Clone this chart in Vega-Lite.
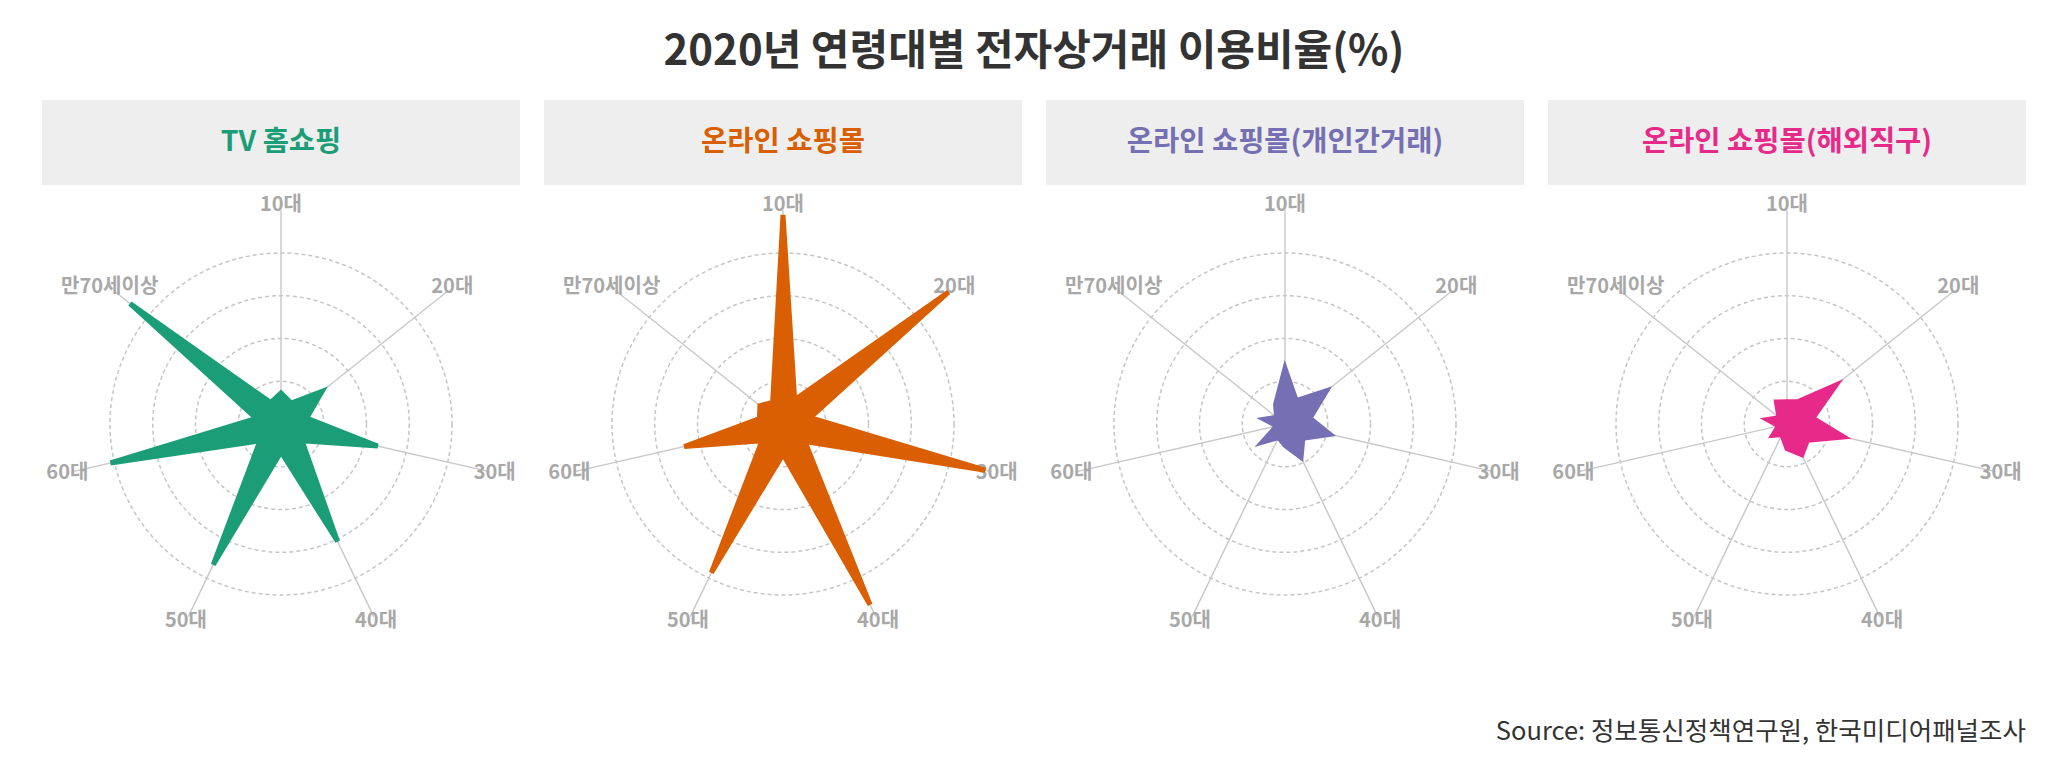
{
  "$schema": "https://vega.github.io/schema/vega-lite/v6.json",
  "padding": {"left": 42, "top": 31, "right": 20, "bottom": 10},
  "background": "white",
  "config": {
    "font": "Noto Sans CJK KR",
    "view": {"stroke": null}
  },
  "title": {
    "text": "2020년 연령대별 전자상거래 이용비율(%)",
    "fontSize": 42,
    "fontWeight": "bold",
    "color": "#333333",
    "anchor": "middle",
    "offset": 26
  },
  "datasets": {
    "channels": [
      {"channel": "TV 홈쇼핑"},
      {"channel": "온라인 쇼핑몰"},
      {"channel": "온라인 쇼핑몰(개인간거래)"},
      {"channel": "온라인 쇼핑몰(해외직구)"}
    ],
    "radar": [
      {"kind": "grid", "channel": "TV 홈쇼핑", "v": 20},
      {"kind": "grid", "channel": "TV 홈쇼핑", "v": 40},
      {"kind": "grid", "channel": "TV 홈쇼핑", "v": 60},
      {"kind": "grid", "channel": "TV 홈쇼핑", "v": 80},
      {"kind": "grid", "channel": "온라인 쇼핑몰", "v": 20},
      {"kind": "grid", "channel": "온라인 쇼핑몰", "v": 40},
      {"kind": "grid", "channel": "온라인 쇼핑몰", "v": 60},
      {"kind": "grid", "channel": "온라인 쇼핑몰", "v": 80},
      {"kind": "grid", "channel": "온라인 쇼핑몰(개인간거래)", "v": 20},
      {"kind": "grid", "channel": "온라인 쇼핑몰(개인간거래)", "v": 40},
      {"kind": "grid", "channel": "온라인 쇼핑몰(개인간거래)", "v": 60},
      {"kind": "grid", "channel": "온라인 쇼핑몰(개인간거래)", "v": 80},
      {"kind": "grid", "channel": "온라인 쇼핑몰(해외직구)", "v": 20},
      {"kind": "grid", "channel": "온라인 쇼핑몰(해외직구)", "v": 40},
      {"kind": "grid", "channel": "온라인 쇼핑몰(해외직구)", "v": 60},
      {"kind": "grid", "channel": "온라인 쇼핑몰(해외직구)", "v": 80},

      {"kind": "shape", "channel": "TV 홈쇼핑", "pos": 0, "age": "10대", "v": 14.5},
      {"kind": "shape", "channel": "TV 홈쇼핑", "pos": 1, "v": 10.9},
      {"kind": "shape", "channel": "TV 홈쇼핑", "pos": 2, "age": "20대", "v": 24.6},
      {"kind": "shape", "channel": "TV 홈쇼핑", "pos": 3, "v": 12.3},
      {"kind": "shape", "channel": "TV 홈쇼핑", "pos": 4, "age": "30대", "v": 46.4},
      {"kind": "shape", "channel": "TV 홈쇼핑", "pos": 5, "v": 12.6},
      {"kind": "shape", "channel": "TV 홈쇼핑", "pos": 6, "age": "40대", "v": 61.0},
      {"kind": "shape", "channel": "TV 홈쇼핑", "pos": 7, "v": 13.1},
      {"kind": "shape", "channel": "TV 홈쇼핑", "pos": 8, "age": "50대", "v": 73.0},
      {"kind": "shape", "channel": "TV 홈쇼핑", "pos": 9, "v": 12.6},
      {"kind": "shape", "channel": "TV 홈쇼핑", "pos": 10, "age": "60대", "v": 81.8},
      {"kind": "shape", "channel": "TV 홈쇼핑", "pos": 11, "v": 11.9},
      {"kind": "shape", "channel": "TV 홈쇼핑", "pos": 12, "age": "만70세이상", "v": 90.3},
      {"kind": "shape", "channel": "TV 홈쇼핑", "pos": 13, "v": 11.1},

      {"kind": "shape", "channel": "온라인 쇼핑몰", "pos": 0, "age": "10대", "v": 97.8},
      {"kind": "shape", "channel": "온라인 쇼핑몰", "pos": 1, "v": 12.6},
      {"kind": "shape", "channel": "온라인 쇼핑몰", "pos": 2, "age": "20대", "v": 99.0},
      {"kind": "shape", "channel": "온라인 쇼핑몰", "pos": 3, "v": 13.1},
      {"kind": "shape", "channel": "온라인 쇼핑몰", "pos": 4, "age": "30대", "v": 97.1},
      {"kind": "shape", "channel": "온라인 쇼핑몰", "pos": 5, "v": 13.1},
      {"kind": "shape", "channel": "온라인 쇼핑몰", "pos": 6, "age": "40대", "v": 93.8},
      {"kind": "shape", "channel": "온라인 쇼핑몰", "pos": 7, "v": 14.2},
      {"kind": "shape", "channel": "온라인 쇼핑몰", "pos": 8, "age": "50대", "v": 77.2},
      {"kind": "shape", "channel": "온라인 쇼핑몰", "pos": 9, "v": 12.6},
      {"kind": "shape", "channel": "온라인 쇼핑몰", "pos": 10, "age": "60대", "v": 47.4},
      {"kind": "shape", "channel": "온라인 쇼핑몰", "pos": 11, "v": 11.3},
      {"kind": "shape", "channel": "온라인 쇼핑몰", "pos": 12, "age": "만70세이상", "v": 13.8},
      {"kind": "shape", "channel": "온라인 쇼핑몰", "pos": 13, "v": 11.2},

      {"kind": "shape", "channel": "온라인 쇼핑몰(개인간거래)", "pos": 0, "age": "10대", "v": 26.0},
      {"kind": "shape", "channel": "온라인 쇼핑몰(개인간거래)", "pos": 1, "v": 12.1},
      {"kind": "shape", "channel": "온라인 쇼핑몰(개인간거래)", "pos": 2, "age": "20대", "v": 24.9},
      {"kind": "shape", "channel": "온라인 쇼핑몰(개인간거래)", "pos": 3, "v": 12.0},
      {"kind": "shape", "channel": "온라인 쇼핑몰(개인간거래)", "pos": 4, "age": "30대", "v": 21.6},
      {"kind": "shape", "channel": "온라인 쇼핑몰(개인간거래)", "pos": 5, "v": 10.7},
      {"kind": "shape", "channel": "온라인 쇼핑몰(개인간거래)", "pos": 6, "age": "40대", "v": 17.3},
      {"kind": "shape", "channel": "온라인 쇼핑몰(개인간거래)", "pos": 7, "v": 10.0},
      {"kind": "shape", "channel": "온라인 쇼핑몰(개인간거래)", "pos": 8, "age": "50대", "v": 7.0},
      {"kind": "shape", "channel": "온라인 쇼핑몰(개인간거래)", "pos": 9, "v": 13.7},
      {"kind": "shape", "channel": "온라인 쇼핑몰(개인간거래)", "pos": 10, "age": "60대", "v": 4.0},
      {"kind": "shape", "channel": "온라인 쇼핑몰(개인간거래)", "pos": 11, "v": 10.0},
      {"kind": "shape", "channel": "온라인 쇼핑몰(개인간거래)", "pos": 12, "age": "만70세이상", "v": 5.0},
      {"kind": "shape", "channel": "온라인 쇼핑몰(개인간거래)", "pos": 13, "v": 10.2},

      {"kind": "shape", "channel": "온라인 쇼핑몰(해외직구)", "pos": 0, "age": "10대", "v": 10.4},
      {"kind": "shape", "channel": "온라인 쇼핑몰(해외직구)", "pos": 1, "v": 11.5},
      {"kind": "shape", "channel": "온라인 쇼핑몰(해외직구)", "pos": 2, "age": "20대", "v": 29.4},
      {"kind": "shape", "channel": "온라인 쇼핑몰(해외직구)", "pos": 3, "v": 12.4},
      {"kind": "shape", "channel": "온라인 쇼핑몰(해외직구)", "pos": 4, "age": "30대", "v": 27.2},
      {"kind": "shape", "channel": "온라인 쇼핑몰(해외직구)", "pos": 5, "v": 12.2},
      {"kind": "shape", "channel": "온라인 쇼핑몰(해외직구)", "pos": 6, "age": "40대", "v": 16.0},
      {"kind": "shape", "channel": "온라인 쇼핑몰(해외직구)", "pos": 7, "v": 11.5},
      {"kind": "shape", "channel": "온라인 쇼핑몰(해외직구)", "pos": 8, "age": "50대", "v": 5.5},
      {"kind": "shape", "channel": "온라인 쇼핑몰(해외직구)", "pos": 9, "v": 8.5},
      {"kind": "shape", "channel": "온라인 쇼핑몰(해외직구)", "pos": 10, "age": "60대", "v": 4.0},
      {"kind": "shape", "channel": "온라인 쇼핑몰(해외직구)", "pos": 11, "v": 9.5},
      {"kind": "shape", "channel": "온라인 쇼핑몰(해외직구)", "pos": 12, "age": "만70세이상", "v": 4.8},
      {"kind": "shape", "channel": "온라인 쇼핑몰(해외직구)", "pos": 13, "v": 11.4}
    ]
  },
  "spacing": 0,
  "vconcat": [
    {
      "data": {"name": "channels"},
      "facet": {
        "column": {
          "field": "channel",
          "type": "nominal",
          "sort": ["TV 홈쇼핑", "온라인 쇼핑몰", "온라인 쇼핑몰(개인간거래)", "온라인 쇼핑몰(해외직구)"],
          "header": {"title": null, "labels": false}
        }
      },
      "spacing": 24,
      "spec": {
        "width": 478,
        "height": 85,
        "view": {"fill": "#eeeeee", "stroke": null},
        "mark": {"type": "text", "fontSize": 28.5, "fontWeight": "bold", "dy": -1},
        "encoding": {
          "text": {"field": "channel", "type": "nominal"},
          "color": {
            "field": "channel",
            "type": "nominal",
            "scale": {
              "domain": ["TV 홈쇼핑", "온라인 쇼핑몰", "온라인 쇼핑몰(개인간거래)", "온라인 쇼핑몰(해외직구)"],
              "range": ["#1b9e77", "#d95f02", "#7570b3", "#e7298a"]
            },
            "legend": null
          }
        }
      }
    },
    {
      "data": {"name": "radar"},
      "title": {
        "text": "Source: 정보통신정책연구원, 한국미디어패널조사",
        "orient": "bottom",
        "anchor": "end",
        "fontSize": 25.5,
        "fontWeight": "normal",
        "color": "#333333",
        "offset": 57
      },
      "transform": [
        {"calculate": "0", "as": "o"},
        {"calculate": "datum.pos * PI / 7", "as": "ang"},
        {"calculate": "datum.v * sin(datum.ang)", "as": "sx"},
        {"calculate": "datum.v * cos(datum.ang)", "as": "sy"},
        {"calculate": "100 * sin(datum.ang)", "as": "ex"},
        {"calculate": "100 * cos(datum.ang)", "as": "ey"},
        {"calculate": "102.5 * sin(datum.ang)", "as": "lx"},
        {"calculate": "102.5 * cos(datum.ang)", "as": "ly"}
      ],
      "facet": {
        "column": {
          "field": "channel",
          "type": "nominal",
          "sort": ["TV 홈쇼핑", "온라인 쇼핑몰", "온라인 쇼핑몰(개인간거래)", "온라인 쇼핑몰(해외직구)"],
          "header": {"title": null, "labels": false}
        }
      },
      "spacing": 24,
      "spec": {
        "width": 478,
        "height": 478,
        "layer": [
          {
            "transform": [{"filter": "datum.kind === 'grid'"}],
            "mark": {
              "type": "point",
              "shape": "circle",
              "filled": false,
              "stroke": "#c6c6c6",
              "strokeWidth": 1.5,
              "strokeDash": [4, 3],
              "opacity": 1
            },
            "encoding": {
              "x": {"field": "o", "type": "quantitative", "scale": {"domain": [-111.8, 111.8], "nice": false, "zero": false}, "axis": null},
              "y": {"field": "o", "type": "quantitative", "scale": {"domain": [-111.8, 111.8], "nice": false, "zero": false}, "axis": null},
              "size": {
                "field": "v",
                "type": "quantitative",
                "scale": {"type": "pow", "exponent": 2, "domain": [0, 100], "range": [0, 182756], "zero": true},
                "legend": null
              }
            }
          },
          {
            "transform": [{"filter": "datum.kind === 'shape' && datum.age != null"}],
            "mark": {"type": "rule", "color": "#c8c8c8", "strokeWidth": 1.4},
            "encoding": {
              "x": {"field": "o", "type": "quantitative"},
              "y": {"field": "o", "type": "quantitative"},
              "x2": {"field": "ex"},
              "y2": {"field": "ey"}
            }
          },
          {
            "transform": [{"filter": "datum.kind === 'shape' && datum.age != null"}],
            "mark": {"type": "text", "fontSize": 20, "fontWeight": "bold", "color": "#a8a8a8", "align": "center", "baseline": "middle"},
            "encoding": {
              "x": {"field": "lx", "type": "quantitative"},
              "y": {"field": "ly", "type": "quantitative"},
              "text": {"field": "age", "type": "nominal"}
            }
          },
          {
            "transform": [{"filter": "datum.kind === 'shape'"}],
            "mark": {"type": "line", "interpolate": "linear-closed", "strokeWidth": 5},
            "encoding": {
              "x": {"field": "sx", "type": "quantitative"},
              "y": {"field": "sy", "type": "quantitative"},
              "order": {"field": "pos", "type": "quantitative"},
              "stroke": {
                "field": "channel",
                "type": "nominal",
                "scale": {
                  "domain": ["TV 홈쇼핑", "온라인 쇼핑몰", "온라인 쇼핑몰(개인간거래)", "온라인 쇼핑몰(해외직구)"],
                  "range": ["#1b9e77", "#d95f02", "#7570b3", "#e7298a"]
                },
                "legend": null
              },
              "fill": {
                "field": "channel",
                "type": "nominal",
                "scale": {
                  "domain": ["TV 홈쇼핑", "온라인 쇼핑몰", "온라인 쇼핑몰(개인간거래)", "온라인 쇼핑몰(해외직구)"],
                  "range": ["#1b9e77", "#d95f02", "#7570b3", "#e7298a"]
                },
                "legend": null
              }
            }
          }
        ]
      }
    }
  ]
}
